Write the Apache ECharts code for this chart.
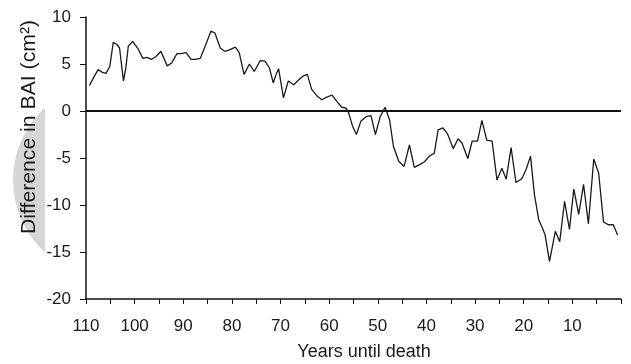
<!DOCTYPE html>
<html>
<head>
<meta charset="utf-8">
<script src="https://cdn.jsdelivr.net/npm/echarts@6/dist/echarts.min.js"></script>
<style>
html,body{margin:0;padding:0;background:#fff;}
#c{width:631px;height:364px;}
</style>
</head>
<body>
<div id="c"></div>
<script>
// Years until death and difference in BAI (cm²)
var years = [109.3,108.5,107.5,106.6,105.9,105.1,104.4,103.7,103.1,102.3,101.8,101.3,100.4,99.4,98.3,97.5,96.5,95.6,94.6,93.3,92.4,91.3,90.5,89.4,88.4,87.6,86.5,85.5,84.3,83.5,82.4,81.5,80.5,79.3,78.5,77.5,76.4,75.4,74.2,73.2,72.3,71.5,70.9,70.4,69.4,68.4,67.3,66.3,65.4,64.5,63.6,62.5,61.5,60.6,59.4,58.3,57.4,56.5,56.0,55.2,54.4,53.5,52.4,51.4,50.5,49.5,48.5,47.6,46.8,45.7,44.6,43.5,42.5,41.4,40.4,39.4,38.4,37.6,36.6,35.7,34.5,33.5,32.7,31.5,30.6,29.5,28.6,27.6,26.5,25.5,24.5,23.6,22.6,21.6,20.4,19.5,18.6,17.8,16.9,16.2,15.6,14.7,13.5,12.6,11.6,10.6,9.7,8.7,7.7,6.7,5.6,4.6,3.6,2.6,1.6,0.7];
var baiDiff = [2.7,3.5,4.4,4.1,4.0,4.75,7.3,7.1,6.7,3.2,4.6,6.9,7.4,6.7,5.6,5.7,5.5,5.8,6.35,4.8,5.1,6.1,6.1,6.2,5.5,5.5,5.6,6.9,8.5,8.3,6.7,6.35,6.5,6.8,6.2,3.9,5.0,4.2,5.35,5.3,4.6,3.0,3.9,4.5,1.4,3.2,2.8,3.3,3.7,3.9,2.3,1.6,1.2,1.45,1.7,0.95,0.4,0.3,-0.2,-1.6,-2.5,-1.1,-0.6,-0.5,-2.5,-0.6,0.4,-0.9,-3.75,-5.35,-5.9,-3.6,-6.0,-5.7,-5.4,-4.8,-4.5,-2.0,-1.8,-2.4,-4.0,-2.95,-3.4,-5.05,-3.2,-3.2,-1.0,-3.1,-3.2,-7.35,-6.1,-7.25,-3.9,-7.6,-7.2,-6.2,-4.8,-8.9,-11.6,-12.4,-13.2,-16.0,-12.8,-13.9,-9.6,-12.6,-8.3,-11.0,-7.8,-12.0,-5.1,-6.6,-11.8,-12.1,-12.1,-13.2];
var xTickLabels = [110,100,90,80,70,60,50,40,30,20,10];
var yTickValues = [10,5,0,-5,-10,-15,-20];
var xTitle = 'Years until death';
var yTitle = 'Difference in BAI (cm²)';

var seriesData = years.map(function(y,i){return [y, baiDiff[i]];});
var chart = echarts.init(document.getElementById('c'), null, {renderer:'canvas'});
var font = '"Liberation Sans", Arial, sans-serif';
chart.setOption({
  animation:false,
  backgroundColor:'#fff',
  grid:{left:86,right:10,top:17,bottom:65,containLabel:false},
  graphic:[
    {type:'circle', shape:{cx:111,cy:180,r:98}, style:{fill:'#d6d6d6'}, z:-10, silent:true},
    {type:'rect', shape:{x:45,y:60,width:200,height:240}, style:{fill:'#ffffff'}, z:-9, silent:true},
    {type:'text', x:29, y:127, rotation:Math.PI/2, scaleX:1.06, style:{text:yTitle, font:'20px '+font, fill:'#1a1a1a', textAlign:'center', textVerticalAlign:'middle'}, z:10},
    {type:'text', x:364, y:352, style:{text:xTitle, font:'18px '+font, fill:'#1a1a1a', textAlign:'center', textVerticalAlign:'middle'}, z:10}
  ],
  xAxis:{
    type:'value', min:0, max:110, interval:5, inverse:true,
    axisLine:{show:true, onZero:false, lineStyle:{color:'#111', width:1.5}},
    axisTick:{show:true, length:5, lineStyle:{color:'#111', width:1}},
    axisLabel:{margin:19, fontSize:17, fontFamily:font, color:'#1a1a1a',
      formatter:function(v){ return xTickLabels.indexOf(v)>=0 ? String(v) : ''; }},
    splitLine:{show:false}
  },
  yAxis:{
    type:'value', min:-20, max:10, interval:5, position:'left',
    axisLine:{show:true, onZero:false, lineStyle:{color:'#111', width:1.5}},
    axisTick:{show:true, length:6, lineStyle:{color:'#111', width:1}},
    axisLabel:{margin:15, fontSize:17, fontFamily:font, color:'#1a1a1a',
      formatter:function(v){ return yTickValues.indexOf(v)>=0 ? String(v) : ''; }},
    splitLine:{show:false}
  },
  series:[{
    type:'line', data:seriesData, symbol:'none', smooth:false,
    lineStyle:{color:'#1a1a1a', width:1.3},
    markLine:{silent:true, symbol:['none','none'], label:{show:false},
      lineStyle:{color:'#111', width:2, type:'solid'},
      data:[{yAxis:0}]}
  }]
});
</script>
</body>
</html>
